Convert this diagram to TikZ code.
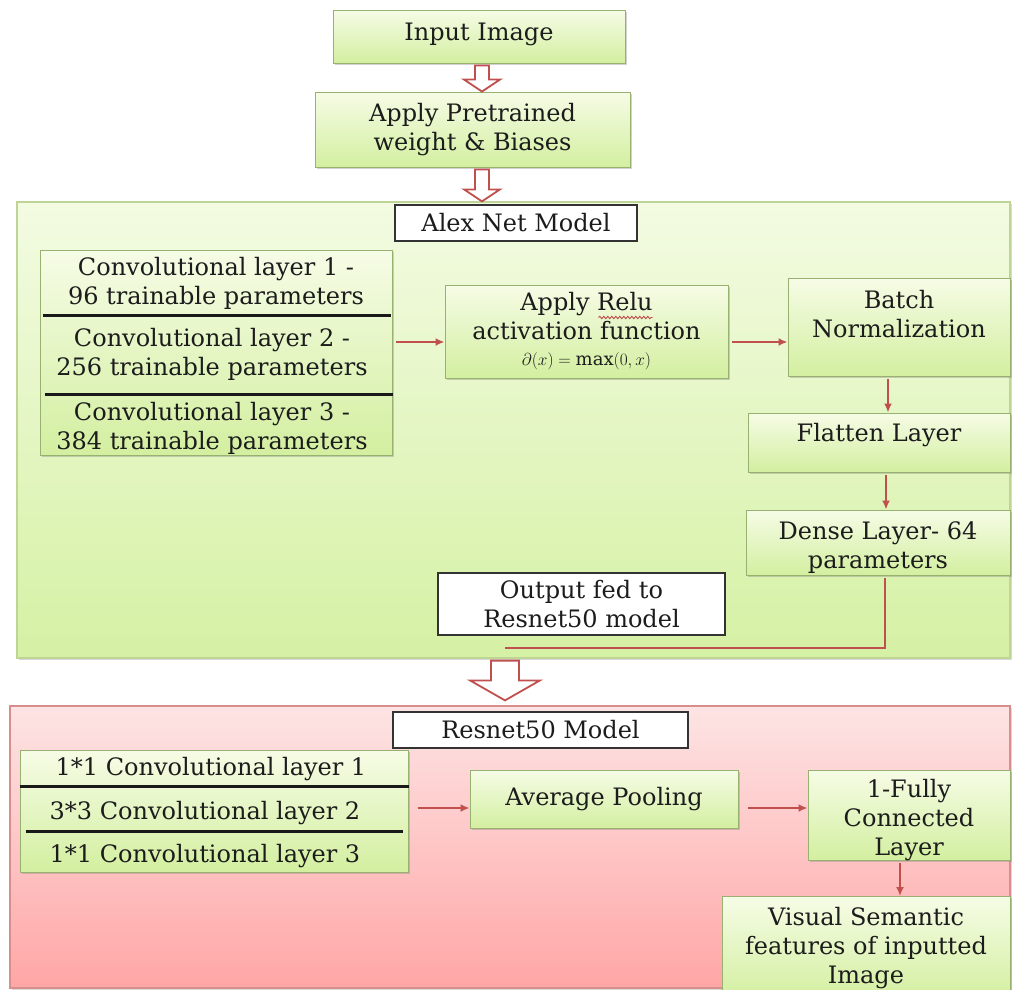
\documentclass[tikz,border=0pt]{standalone}
\usepackage{fontspec}
\setmainfont{DejaVu Serif}
\usetikzlibrary{calc,arrows.meta,shadows,decorations.pathmorphing}

\definecolor{arrred}{HTML}{C0504D}
\definecolor{gtop}{HTML}{F6FCE6}
\definecolor{gbot}{HTML}{D3EFA0}
\definecolor{gedge}{HTML}{98B070}
\definecolor{ptopA}{HTML}{F3FBE2}
\definecolor{pbotA}{HTML}{D5F1A4}
\definecolor{pedgeA}{HTML}{BFD596}
\definecolor{ptopB}{HTML}{FDE4E4}
\definecolor{pbotB}{HTML}{FFA6A6}
\definecolor{pedgeB}{HTML}{D98E8E}
\definecolor{ink}{HTML}{1C1C1C}

% hollow block arrow pointing down: start, tip, half shaft, half head, head length
\newcommand\hollowdown[5]{%
  \draw[hollowarr] ($(#1)+(-#3,0)$) -- ($(#2)+(-#3,-#5)$) -- ($(#2)+(-#4,-#5)$)
    -- (#2) -- ($(#2)+(#4,-#5)$) -- ($(#2)+(#3,-#5)$) -- ($(#1)+(#3,0)$) -- cycle;}

\begin{document}
\begin{tikzpicture}[x=1pt,y=-1pt,
  font=\fontsize{24}{29}\selectfont, text=ink,
  gbox/.style={draw=gedge, line width=1pt, top color=gtop, bottom color=gbot,
    drop shadow={shadow xshift=1.5pt, shadow yshift=-1.5pt, opacity=0.35},
    align=center, inner sep=1pt},
  panelA/.style={draw=pedgeA, line width=1.2pt, top color=ptopA, bottom color=pbotA,
    drop shadow={shadow xshift=1.5pt, shadow yshift=-1.5pt, opacity=0.3}},
  panelB/.style={draw=pedgeB, line width=1.2pt, top color=ptopB, bottom color=pbotB,
    drop shadow={shadow xshift=1.5pt, shadow yshift=-1.5pt, opacity=0.3}},
  labelbox/.style={draw=black!80, line width=1.3pt, fill=white, align=center, inner sep=1pt},
  txt/.style={align=center, inner sep=0pt},
  sepline/.style={line width=2.8pt, black!90},
  redarr/.style={draw=arrred, line width=2.2pt, -{Latex[length=9pt,width=8pt]}},
  redline/.style={draw=arrred, line width=2.4pt},
  hollowarr/.style={draw=arrred, fill=white, line width=1.8pt, line join=miter},
]
\useasboundingbox (0,0) rectangle (1012,989);
\fill[white] (0,0) rectangle (1012,989);
\clip (0,0) rectangle (1012,989);

% ---------- panels ----------
\node[panelA, minimum width=993pt, minimum height=456pt] (alex) at (513.5,430) {};
\node[panelB, minimum width=1000pt, minimum height=282pt] (res) at (510,847) {};
\node[labelbox, minimum width=242pt, minimum height=36pt] (alexlbl) at (516,223) {Alex Net Model};
\node[labelbox, minimum width=295pt, minimum height=36pt] (reslbl) at (540.5,730) {Resnet50 Model};

% ---------- top chain ----------
\node[gbox, minimum width=292pt, minimum height=53pt, text depth=10pt] (inp) at (479,36.5) {Input Image};
\node[gbox, minimum width=315pt, minimum height=75pt] (pre) at (472.5,129.5) {Apply Pretrained\\weight \& Biases};

% ---------- AlexNet part ----------
\node[gbox, minimum width=352pt, minimum height=205pt] (convA) at (216,352.5) {};
\node[txt] (ca1) at (216,283) {Convolutional layer 1 -\\96 trainable parameters};
\node[txt] (ca2) at (212,354) {Convolutional layer 2 -\\256 trainable parameters};
\node[txt] (ca3) at (212,428) {Convolutional layer 3 -\\384 trainable parameters};
\draw[sepline] ($(convA.north west)+(3,66)$) -- ($(convA.north east)+(-2,66)$);
\draw[sepline] ($(convA.north west)+(5,145)$) -- ($(convA.north east)+(0,145)$);

\node[gbox, minimum width=283pt, minimum height=93pt] (relu) at (586.5,331.5)
  {Apply Relu\\activation function\\[-3pt]{\fontsize{18}{21}\selectfont$\partial(x)=\max(0,x)$}};
\draw[arrred, line width=0.9pt, decorate, decoration={snake, amplitude=1.2pt, segment length=4pt}]
  ($(relu.center)+(12,-14)$) -- ($(relu.center)+(66,-14)$);

\node[gbox, minimum width=222pt, minimum height=98pt, text depth=26pt] (batch) at (899,327) {Batch\\Normalization};
\node[gbox, minimum width=262pt, minimum height=59pt, text depth=20pt] (flat) at (879,442.5) {Flatten Layer};
\node[gbox, minimum width=264pt, minimum height=65pt, text height=57pt] (dense) at (878,542.5) {Dense Layer- 64\\parameters};
\node[labelbox, minimum width=287pt, minimum height=62pt] (outfed) at (581.5,604) {Output fed to\\Resnet50 model};

% ---------- ResNet part ----------
\node[gbox, minimum width=388pt, minimum height=122pt] (convB) at (214,811) {};
\node[txt] (cb1) at (211,769) {1*1 Convolutional layer 1};
\node[txt] (cb2) at (205,813) {3*3 Convolutional layer 2};
\node[txt] (cb3) at (205,856) {1*1 Convolutional layer 3};
\draw[sepline] ($(convB.north west)+(0,37)$) -- ($(convB.north east)+(0,37)$);
\draw[sepline] ($(convB.north west)+(6,82)$) -- ($(convB.north east)+(-6,82)$);

\node[gbox, minimum width=268pt, minimum height=58pt] (avg) at (604,799) {Average Pooling};
\node[gbox, minimum width=202pt, minimum height=90pt, text height=81.5pt, text depth=0pt] (fc) at (909,815) {1-Fully\\Connected\\Layer};
\node[gbox, minimum width=288pt, minimum height=103pt] (vis) at (866,948) {Visual Semantic\\features of inputted\\Image};

% ---------- connectors ----------
\coordinate (a1s) at ($(inp.south)+(3,2)$);
\coordinate (a1t) at (a1s |- pre.north);
\hollowdown{a1s}{a1t}{7}{18}{12}
\coordinate (a2s) at ($(a1s |- pre.south)+(0,2)$);
\coordinate (a2t) at (a2s |- alex.north);
\hollowdown{a2s}{a2t}{7}{18}{12}
\coordinate (a3s) at ($(alex.south)+(-8.5,2)$);
\coordinate (a3t) at ($(a3s |- res.north)+(0,-5)$);
\hollowdown{a3s}{a3t}{14}{35}{20}

\coordinate (rowA) at (0,342);
\draw[redarr] ($(convA.east |- rowA)+(3,0)$) -- (relu.west |- rowA);
\draw[redarr] ($(relu.east |- rowA)+(3,0)$) -- (batch.west |- rowA);
\coordinate (colA) at (888,0);
\draw[redarr] ($(batch.south -| colA)+(0,2)$) -- (flat.north -| colA);
\coordinate (colB) at (886,0);
\draw[redarr] ($(flat.south -| colB)+(0,2)$) -- (dense.north -| colB);
\coordinate (outend) at (505,648);
\draw[redline] ($(dense.south)+(7,2)$) |- (outend);

\coordinate (rowB) at (0,808);
\draw[redarr] ($(convB.east |- rowB)+(9,0)$) -- (avg.west |- rowB);
\draw[redarr] ($(avg.east |- rowB)+(9,0)$) -- (fc.west |- rowB);
\coordinate (colC) at (900,0);
\draw[redarr] ($(fc.south -| colC)+(0,2)$) -- (vis.north -| colC);
\end{tikzpicture}
\end{document}
